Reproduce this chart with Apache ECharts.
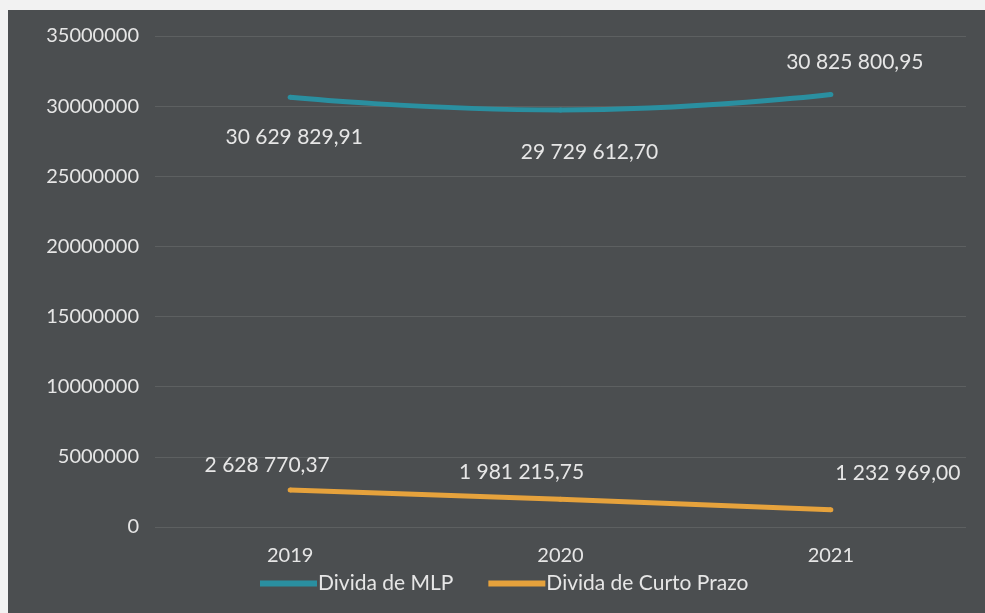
<!DOCTYPE html>
<html>
<head>
<meta charset="utf-8">
<script src="https://cdn.jsdelivr.net/npm/echarts@6/dist/echarts.min.js"></script>
<style>
  html, body { margin: 0; padding: 0; background: #f2f2f2; }
  #chart { position: absolute; left: 8px; top: 10px; width: 977px; height: 603px; }
</style>
</head>
<body>
<div id="chart"></div>
<script>
// data
const years = ['2019', '2020', '2021'];
const dividaMLP = [30629829.91, 29729612.70, 30825800.95];
const dividaCurto = [2628770.37, 1981215.75, 1232969.00];
// label offsets (px) relative to each point, as placed in the original
const mlpLabelOffsets = [[4, 40], [29, 42], [24, -32]];
const curtoLabelOffsets = [[-23, -25], [-39, -27], [67, -36]];

// 30629829.91 -> "30 629 829,91"
function fmt(v) {
    let parts = v.toFixed(2).split('.');
    let intPart = parts[0].replace(/\B(?=(\d{3})+(?!\d))/g, ' ');
    return intPart + ',' + parts[1];
}

function buildData(values, offsets) {
    return values.map(function (v, i) {
        return { value: v, label: { offset: offsets[i] } };
    });
}

const textColor = '#e6e6e6';
const font = 'Lato, "Open Sans", sans-serif';

let chart = echarts.init(document.getElementById('chart'));
let option = {
    backgroundColor: '#4b4e50',
    textStyle: { fontFamily: font },
    grid: { left: 147, right: 19, top: 26, bottom: 86 },
    legend: {
        left: 247,
        bottom: 14,
        itemWidth: 57,
        itemHeight: 6,
        itemGap: 35,
        icon: 'rect',
        textStyle: { color: textColor, fontSize: 21, fontFamily: font, padding: [0, 0, 0, -4] },
        data: ['Divida de MLP', 'Divida de Curto Prazo']
    },
    xAxis: {
        type: 'category',
        data: years,
        boundaryGap: true,
        axisLine: { show: false },
        axisTick: { show: false },
        axisLabel: { color: textColor, fontSize: 20, margin: 19 }
    },
    yAxis: {
        type: 'value',
        min: 0,
        max: 35000000,
        interval: 5000000,
        axisLine: { show: false },
        axisTick: { show: false },
        axisLabel: {
            color: textColor,
            fontSize: 20,
            margin: 16,
            formatter: function (v) { return String(v); }
        },
        splitLine: { lineStyle: { color: 'rgba(255,255,255,0.1)', width: 1 } }
    },
    series: [
        {
            name: 'Divida de MLP',
            type: 'line',
            smooth: true,
            symbol: 'circle',
            symbolSize: 5,
            color: '#2a8fa0',
            lineStyle: { width: 5, color: '#2a8fa0' },
            label: {
                show: true,
                position: 'inside',
                color: textColor,
                fontSize: 21,
                fontFamily: font,
                formatter: function (p) { return fmt(p.value); }
            },
            data: buildData(dividaMLP, mlpLabelOffsets)
        },
        {
            name: 'Divida de Curto Prazo',
            type: 'line',
            smooth: true,
            symbol: 'circle',
            symbolSize: 5,
            color: '#e6a23c',
            lineStyle: { width: 5, color: '#e6a23c' },
            label: {
                show: true,
                position: 'inside',
                color: textColor,
                fontSize: 21,
                fontFamily: font,
                formatter: function (p) { return fmt(p.value); }
            },
            data: buildData(dividaCurto, curtoLabelOffsets)
        }
    ]
};
chart.setOption(option);
</script>
</body>
</html>
